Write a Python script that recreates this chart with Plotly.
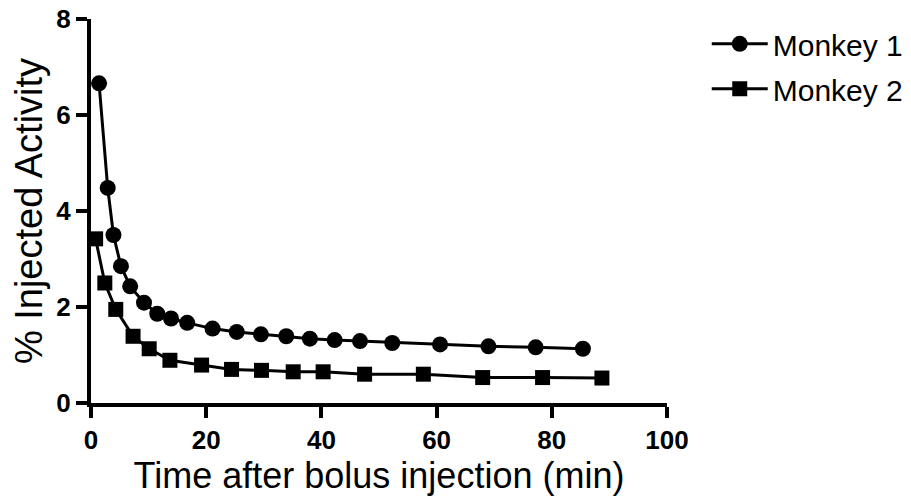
import plotly.graph_objects as go

# Monkey 1 (circles)
t1 = [1.4, 2.9, 3.9, 5.2, 6.8, 9.2, 11.5, 13.9, 16.7, 21.1, 25.3, 29.5, 33.9, 38.0, 42.3, 46.7, 52.3, 60.6, 69.0, 77.2, 85.4]
v1 = [6.66, 4.48, 3.50, 2.85, 2.43, 2.09, 1.86, 1.76, 1.67, 1.55, 1.48, 1.43, 1.39, 1.34, 1.31, 1.29, 1.25, 1.22, 1.18, 1.16, 1.13]

# Monkey 2 (squares)
t2 = [0.8, 2.4, 4.3, 7.3, 10.1, 13.7, 19.2, 24.4, 29.6, 35.1, 40.3, 47.5, 57.7, 68.0, 78.4, 88.7]
v2 = [3.42, 2.50, 1.95, 1.39, 1.13, 0.89, 0.79, 0.70, 0.68, 0.65, 0.65, 0.60, 0.60, 0.53, 0.53, 0.52]

x_ticks = [0, 20, 40, 60, 80, 100]
y_ticks = [0, 2, 4, 6, 8]

fig = go.Figure()
fig.add_trace(go.Scatter(x=t1, y=v1, mode="lines+markers", name="Monkey 1",
                         legendgroup="m1",
                         line=dict(color="black", width=3),
                         marker=dict(symbol="circle", size=16, color="black"),
                         cliponaxis=False))
fig.add_trace(go.Scatter(x=t2, y=v2, mode="lines+markers", name="Monkey 2",
                         legendgroup="m2",
                         line=dict(color="black", width=3),
                         marker=dict(symbol="square", size=15, color="black"),
                         cliponaxis=False))

tickfont = dict(family="Liberation Sans", size=26, color="black", weight="bold")

fig.update_layout(
    width=895, height=488,
    margin=dict(l=83, r=236, t=11, b=93, autoexpand=False),
    paper_bgcolor="white", plot_bgcolor="white",
    showlegend=True,
    legend=dict(x=1.069, y=1.003, xanchor="left", yanchor="top",
                font=dict(family="Liberation Sans", size=30, color="black"),
                itemwidth=56, tracegroupgap=3, itemsizing="trace",
                bgcolor="rgba(0,0,0,0)"),
    xaxis=dict(range=[0, 100], tickvals=x_ticks, ticktext=[str(v) for v in x_ticks],
               showgrid=False, zeroline=False, showline=True, linecolor="black", linewidth=4,
               ticks="outside", ticklen=11, tickwidth=4, tickcolor="black",
               tickfont=tickfont, ticklabeloverflow="allow",
               title=dict(text="Time after bolus injection (min)",
                          font=dict(family="Liberation Sans", size=36, color="black"),
                          standoff=17)),
    yaxis=dict(range=[0, 8], tickvals=y_ticks, ticktext=[str(v) for v in y_ticks],
               showgrid=False, zeroline=False, showline=True, linecolor="black", linewidth=4,
               ticks="outside", ticklen=11, tickwidth=4, tickcolor="black",
               tickfont=tickfont, ticklabeloverflow="allow",
               title=dict(text="% Injected Activity",
                          font=dict(family="Liberation Sans", size=38, color="black"),
                          standoff=9)),
)

fig.write_html("out.html")
